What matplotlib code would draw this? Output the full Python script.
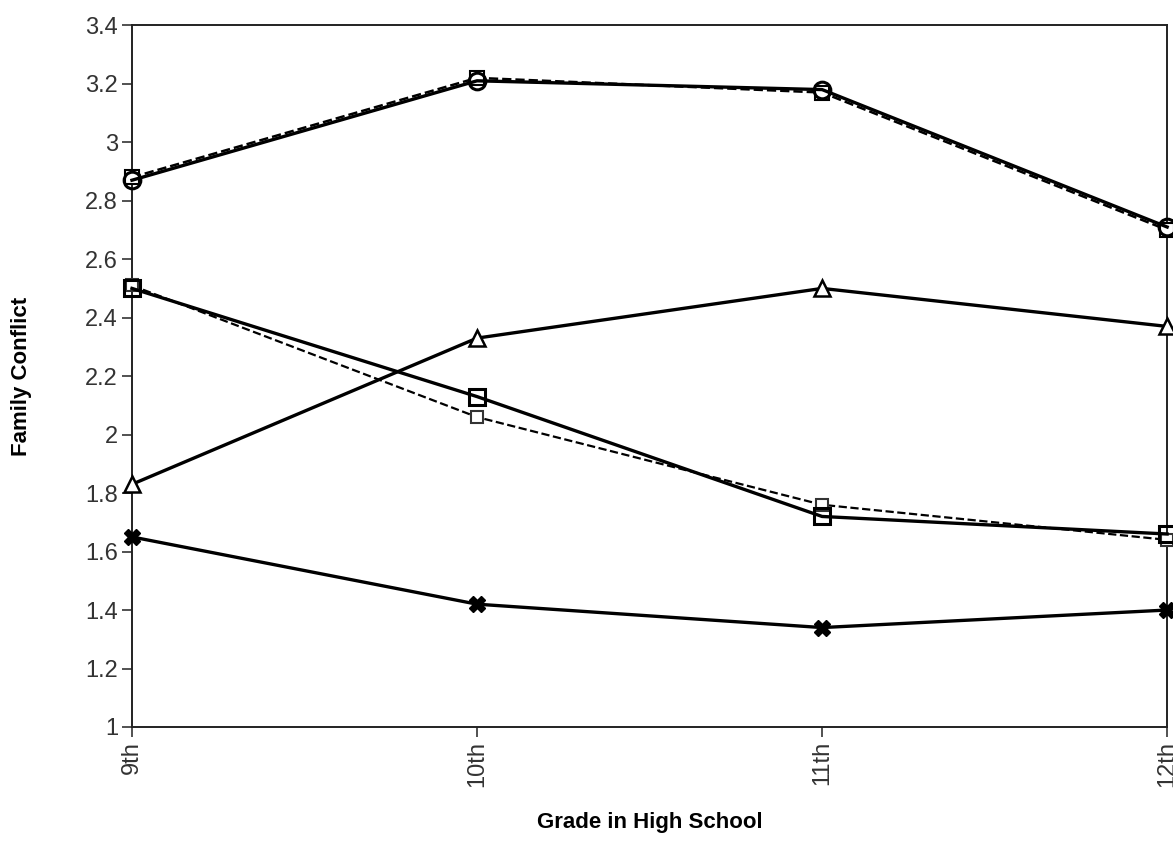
import numpy as np
import matplotlib.pyplot as plt

plt.rcParams['font.family'] = ['Liberation Sans', 'DejaVu Sans']

grades = ["9th", "10th", "11th", "12th"]

circle_obs = [2.87, 3.21, 3.18, 2.71]
circle_pred = [2.88, 3.22, 3.17, 2.70]
square_obs = [2.50, 2.13, 1.72, 1.66]
square_pred = [2.51, 2.06, 1.76, 1.64]
triangle_obs = [1.83, 2.33, 2.50, 2.37]
cross_obs = [1.65, 1.42, 1.34, 1.40]

x = np.arange(len(grades))

fig = plt.figure(figsize=(11.73, 8.42), dpi=100)
ax = fig.add_axes([0.1125, 0.1366, 0.8825, 0.8334])

ax.plot(x, circle_pred, "--", color="black", lw=1.8, marker="s", ms=10,
        mfc="white", mec="black", mew=1.5, clip_on=False, zorder=3)
ax.plot(x, circle_obs, "-", color="black", lw=2.4, marker="o", ms=12,
        mfc="none", mec="black", mew=2.2, clip_on=False, zorder=4)
ax.plot(x, square_pred, "--", color="black", lw=1.6, marker="s", ms=9,
        mfc="white", mec="#333333", mew=1.5, clip_on=False, zorder=3)
ax.plot(x, square_obs, "-", color="black", lw=2.4, marker="s", ms=12,
        mfc="none", mec="black", mew=2.2, clip_on=False, zorder=4)
ax.plot(x, triangle_obs, "-", color="black", lw=2.4, marker="^", ms=11,
        mfc="white", mec="black", mew=1.8, clip_on=False, zorder=4)
ax.plot(x, cross_obs, "-", color="black", lw=2.4, marker="X", ms=11,
        mfc="black", mec="black", mew=1, clip_on=False, zorder=4)

ax.set_xlim(0, 3)
ax.set_ylim(1, 3.4)
ax.set_yticks(np.arange(1, 3.41, 0.2))
ax.set_yticklabels(["1", "1.2", "1.4", "1.6", "1.8", "2", "2.2", "2.4",
                    "2.6", "2.8", "3", "3.2", "3.4"])
ax.set_xticks(x)
ax.set_xticklabels(grades, rotation=90)
ax.tick_params(labelsize=17, length=7, width=1.2, color="#333333",
               labelcolor="#333333", pad=3)
for s in ax.spines.values():
    s.set_linewidth(1.4)
    s.set_color("#222222")

ax.set_xlabel("Grade in High School", fontsize=16, fontweight="bold", labelpad=18)
ax.set_ylabel("Family Conflict", fontsize=16, fontweight="bold", labelpad=38)

fig.savefig("out.png", dpi=100)
